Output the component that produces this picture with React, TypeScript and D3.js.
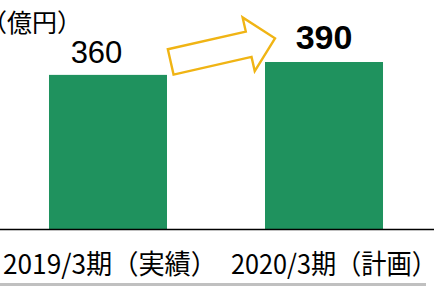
import React from 'react';
import * as d3 from 'd3';

const categories = ['2019/3期（実績）', '2020/3期（計画）'];
const values = [360, 390];
const unitLabel = '（億円）';

const W = 434;
const H = 286;
const baseY = 229.5;

const App: React.FC = () => {
  const x = d3.scaleBand<string>()
    .domain(categories)
    .range([0, 432])
    .paddingInner(0.4537)
    .paddingOuter(0.2268);

  const y = d3.scaleLinear()
    .domain([0, 390])
    .range([baseY, 62]);

  const bw = x.bandwidth();

  // arrow between the two bars, anchored on the scales
  const tailX = x(categories[0])! + bw + 3.7;
  const tailY = y(values[0]) - 13;
  const tipX = x(categories[1])! + 10;
  const tipY = y(values[1]) - 23.7;
  const len = Math.hypot(tipX - tailX, tipY - tailY);
  const angle = (Math.atan2(tipY - tailY, tipX - tailX) * 180) / Math.PI;
  const hs = 13, hh = 27.5, hl = 27;
  const arrowPts: [number, number][] = [
    [0, -hs], [len - hl, -hs], [len - hl, -hh], [len, 0],
    [len - hl, hh], [len - hl, hs], [0, hs],
  ];
  const arrowPath = d3.line()(arrowPts) + 'Z';

  const cjk = "'Noto Sans CJK JP', sans-serif";
  const num = "'Liberation Sans', Arial, sans-serif";

  // label boxes: [left, width incl. trailing paren space]
  const catBoxes: [number, number][] = [[3, 214], [231, 206]];

  return (
    <svg width={W} height={H} style={{ position: 'absolute', left: 0, top: 0 }}>
      <rect width={W} height={H} fill="#fff" />
      <text x={-18} y={32} fontFamily={cjk} fontSize={25} fill="#000">
        {unitLabel}
      </text>

      {categories.map((c, i) => (
        <rect
          key={c}
          x={x(c)}
          y={y(values[i])}
          width={bw}
          height={baseY - y(values[i])}
          fill="#1f925e"
        />
      ))}

      <text x={x(categories[0])! + bw / 2 - 11.5} y={63} textAnchor="middle"
        fontFamily={num} fontSize={31} fill="#000">
        {values[0]}
      </text>
      <text x={x(categories[1])! + bw / 2} y={49} textAnchor="middle"
        fontFamily={num} fontSize={34} fontWeight="bold" fill="#000">
        {values[1]}
      </text>

      <path
        d={arrowPath}
        transform={`translate(${tailX},${tailY}) rotate(${angle})`}
        fill="#fff"
        stroke="#f0b414"
        strokeWidth={2.4}
        strokeLinejoin="miter"
      />

      <line x1={0} x2={W} y1={baseY} y2={baseY} stroke="#000" strokeWidth={1.3} />

      {categories.map((c, i) => (
        <text key={c} x={catBoxes[i][0]} y={274}
          textLength={catBoxes[i][1]} lengthAdjust="spacingAndGlyphs"
          fontFamily={cjk} fontSize={27} fill="#000">
          {c}
        </text>
      ))}

      <line x1={0} x2={426} y1={284.5} y2={284.5} stroke="#c0c0c0" strokeWidth={3} />
    </svg>
  );
};

export default App;
